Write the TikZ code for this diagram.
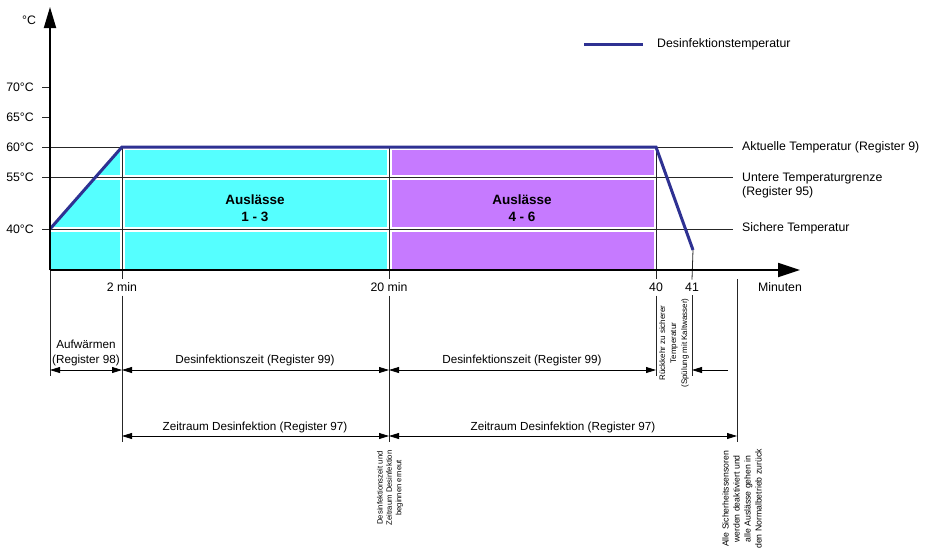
\documentclass[tikz,border=0pt]{standalone}
\usepackage{fontspec}
\setmainfont{Liberation Sans}
\usetikzlibrary{arrows.meta}
\definecolor{cyanfill}{RGB}{85,255,255}
\definecolor{purplefill}{RGB}{198,122,255}
\definecolor{tempblue}{RGB}{46,49,146}
\begin{document}
\begin{tikzpicture}[x=1pt,y=-1pt,
  lbl/.style={font=\fontsize{12.3}{14.5}\selectfont, inner sep=0pt},
  smalllbl/.style={font=\fontsize{11.7}{15}\selectfont, inner sep=0pt, align=center},
  boldlbl/.style={font=\fontsize{13.5}{16.5}\selectfont\bfseries, inner sep=0pt, align=center},
  rotlbl/.style={rotate=90, align=center, inner sep=0pt},
  gridline/.style={line width=0.8pt, black!85},
  gapline/.style={line width=5pt, white},
  axisline/.style={line width=1.8pt, black},
  dimline/.style={line width=0.8pt, {Triangle[length=10pt,width=6pt]}-{Triangle[length=10pt,width=6pt]}},
  dimright/.style={line width=0.8pt, -{Triangle[length=10pt,width=6pt]}},
  templine/.style={line width=3pt, tempblue, line join=miter}
]
\useasboundingbox (0,0) rectangle (934,549);

% key coordinates
\coordinate (O) at (50,270);
\coordinate (S40) at (50,229);
\coordinate (P2) at (122,147);
\coordinate (P20) at (389,147);
\coordinate (P40) at (656,147);
\coordinate (E41) at (693,250);
\coordinate (B2) at (122,270);
\coordinate (B20) at (389,270);
\coordinate (B40) at (656,270);

% fills
\fill[cyanfill] (S40) -- (P2) -- (P20) -- (B20) -- (O) -- cycle;
\fill[purplefill] (P20) -- (P40) -- (B40) -- (B20) -- cycle;

% white separations
\draw[gapline] (50,177) -- (656,177);
\draw[gapline] (50,229) -- (656,229);
\draw[gapline, line width=6pt] (P2) -- (P40);
\draw[gapline] (P2) -- (B2);
\draw[gapline] (P20) -- (B20);
\draw[gapline] (P40) -- (B40);

% horizontal grid lines and ticks
\draw[gridline] (42,87) -- (50,87);
\draw[gridline] (42,117) -- (50,117);
\draw[gridline] (42,147) -- (733,147);
\draw[gridline] (42,177) -- (733,177);
\draw[gridline] (42,229) -- (733,229);

% tick labels
\node[lbl, anchor=east] (l70) at (34,87) {70°C};
\node[lbl, anchor=east] (l65) at (34,117) {65°C};
\node[lbl, anchor=east] (l60) at (34,147) {60°C};
\node[lbl, anchor=east] (l55) at (34,177) {55°C};
\node[lbl, anchor=east] (l40) at (34,229) {40°C};
\node[lbl] (unit) at (29,20) {°C};

% right labels
\node[lbl, anchor=west] (r60) at (742,147) {Aktuelle Temperatur (Register 9)};
\node[lbl, anchor=west, align=left] (r55) at (742,185.5) {Untere Temperaturgrenze\\(Register 95)};
\node[lbl, anchor=west] (r40) at (742,228) {Sichere Temperatur};

% x labels
\node[lbl] (x2) at (122,287) {2 min};
\node[lbl] (x20) at (389,287) {20 min};
\node[lbl] (x40) at (656,287) {40};
\node[lbl] (x41) at (692,287) {41};
\node[lbl] (xmin) at (780,287) {Minuten};

% vertical lines
\coordinate (D0) at (50,376);
\coordinate (D2) at (122,442);
\coordinate (D20) at (389,442);
\coordinate (D40) at (656,376);
\coordinate (D41) at (692,376);
\coordinate (T737) at (737,279);
\coordinate (D737) at (737,442);
\draw[gridline] (O) -- (D0);
\draw[gridline] (P2) -- ([yshift=3pt]x2.north);
\draw[gridline] ([yshift=-4pt]x2.south) -- (D2);
\draw[gridline] (P20) -- ([yshift=3pt]x20.north);
\draw[gridline] ([yshift=-4pt]x20.south) -- (D20);
\draw[gridline] (P40) -- ([yshift=3pt]x40.north);
\draw[gridline] ([yshift=-4pt]x40.south) -- (D40);
\draw[gridline] (E41) -- ([yshift=3pt]x41.north);
\draw[gridline] ([yshift=-4pt]x41.south) -- (D41);
\draw[gridline] (T737) -- (D737);

% temperature curve
\draw[templine] (S40) -- (P2) -- (P40) -- (E41);

% axes
\draw[axisline, -{Triangle[length=21pt,width=12pt]}] (O) -- (50,7);
\draw[axisline, -{Triangle[length=22pt,width=14pt]}] (O) -- (800,270);

% region labels
\node[boldlbl] (a13) at (255,208) {Auslässe\\1 - 3};
\node[boldlbl] (a46) at (522,208) {Auslässe\\4 - 6};

% legend
\coordinate (lg1) at (584,44);
\coordinate (lg2) at (643,44);
\draw[templine] (lg1) -- (lg2);
\node[lbl, anchor=west] (lgt) at (657,44) {Desinfektionstemperatur};

% dimension row 1
\coordinate (r1a) at (50,370);
\coordinate (r1b) at (122,370);
\coordinate (r1c) at (389,370);
\coordinate (r1d) at (656,370);
\coordinate (r1e) at (692,370);
\coordinate (r1f) at (728,370);
\draw[dimline] (r1a) -- (r1b);
\draw[dimline] (r1b) -- (r1c);
\draw[dimline] (r1c) -- (r1d);
\draw[dimright] (r1f) -- (r1e);
\node[smalllbl] (aufw) at (86,353) {Aufwärmen\\(Register 98)};
\node[smalllbl] (dz1) at (255,360) {Desinfektionszeit (Register 99)};
\node[smalllbl] (dz2) at (522,360) {Desinfektionszeit (Register 99)};

% dimension row 2
\coordinate (r2a) at (122,436);
\coordinate (r2b) at (389,436);
\coordinate (r2c) at (737,436);
\draw[dimline] (r2a) -- (r2b);
\draw[dimline] (r2b) -- (r2c);
\node[smalllbl] (zr1) at (255,427) {Zeitraum Desinfektion (Register 97)};
\node[smalllbl] (zr2) at (563,427) {Zeitraum Desinfektion (Register 97)};

% rotated notes
\node[rotlbl, font=\fontsize{8}{11}\selectfont] (ret) at (674,343) {Rückkehr zu sicherer\\Temperatur\\(Spülung mit Kaltwasser)};
\node[rotlbl, font=\fontsize{7.7}{9.3}\selectfont] (restart) at (390,488) {Desinfektionszeit und\\Zeitraum Desinfektion\\beginnen erneut};
\node[rotlbl, font=\fontsize{8.7}{11}\selectfont] (endnote) at (742,499) {Alle Sicherheitssensoren\\werden deaktiviert und\\alle Auslässe gehen in\\den Normalbetrieb zurück};
\end{tikzpicture}
\end{document}
